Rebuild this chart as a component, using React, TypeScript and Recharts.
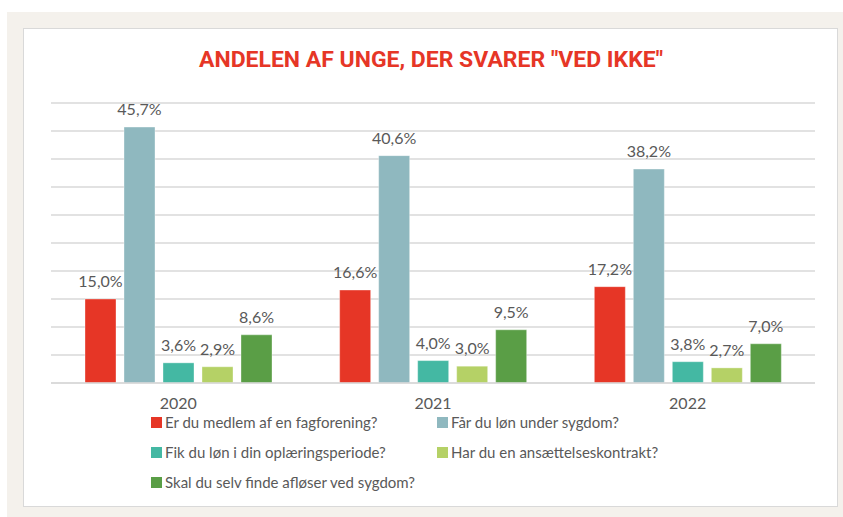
import { BarChart, Bar, XAxis, YAxis, CartesianGrid, LabelList } from "recharts";

const years = ["2020", "2021", "2022"];
const questions = [
  "Er du medlem af en fagforening?",
  "Får du løn under sygdom?",
  "Fik du løn i din oplæringsperiode?",
  "Har du en ansættelseskontrakt?",
  "Skal du selv finde afløser ved sygdom?",
];
const medlem = [15.0, 16.6, 17.2];
const loenSygdom = [45.7, 40.6, 38.2];
const loenOplaering = [3.6, 4.0, 3.8];
const kontrakt = [2.9, 3.0, 2.7];
const afloeser = [8.6, 9.5, 7.0];
const yTicks = [0, 5, 10, 15, 20, 25, 30, 35, 40, 45, 50];

const COLORS = ["#e63626", "#8fb8bf", "#44b8a3", "#b5d166", "#5a9e46"];
const KEYS = ["q0", "q1", "q2", "q3", "q4"];
const FONT = "Lato, 'Noto Sans', sans-serif";
const GREY = "#595959";

const series = [medlem, loenSygdom, loenOplaering, kontrakt, afloeser];
const data = years.map((year, i) => {
  const row: Record<string, string | number> = { year };
  series.forEach((s, k) => {
    row[KEYS[k]] = s[i];
  });
  return row;
});

const fmt = (v: any) => Number(v).toFixed(1).replace(".", ",") + "%";

// legend in two columns, last item alone on the third row
function LegendBox() {
  return (
    <div style={{ position: "absolute", left: 151, top: 413, width: 700, height: 90, fontFamily: FONT }}>
      {questions.map((q, i) => (
        <div
          key={q}
          style={{
            position: "absolute",
            left: (i % 2) * 286,
            top: Math.floor(i / 2) * 30,
            display: "flex",
            alignItems: "center",
            fontSize: 15,
            color: GREY,
            whiteSpace: "nowrap",
          }}
        >
          <span style={{ display: "inline-block", width: 11, height: 11, background: COLORS[i], marginRight: 3 }} />
          {q}
        </div>
      ))}
    </div>
  );
}

export default function App() {
  return (
    <div style={{ position: "absolute", left: 0, top: 0, width: 843, height: 517, background: "#fff", overflow: "hidden" }}>
      <div style={{ position: "absolute", left: 7, top: 12, width: 836, height: 505, background: "#f4f1ec" }} />
      <div
        style={{
          position: "absolute",
          left: 23,
          top: 28,
          width: 813,
          height: 477,
          background: "#fff",
          border: "1px solid #d9d9d9",
        }}
      />
      <svg style={{ position: "absolute", left: 0, top: 0 }} width={843} height={100}>
        <text
          x={199}
          y={67}
          textLength={464}
          lengthAdjust="spacingAndGlyphs"
          fill="#e63626"
          fontFamily="Roboto, 'Liberation Sans', sans-serif"
          fontWeight={700}
          fontSize={22}
        >
          ANDELEN AF UNGE, DER SVARER "VED IKKE"
        </text>
      </svg>
      <div style={{ position: "absolute", left: 0, top: 0 }}>
        <BarChart
          width={843}
          height={517}
          data={data}
          margin={{ top: 103, right: 28, bottom: 104, left: 51 }}
          barSize={31}
          barGap={8}
        >
          <CartesianGrid vertical={false} stroke="#d9d9d9" strokeWidth={1.5} />
          <YAxis hide domain={[0, 50]} ticks={yTicks} />
          <XAxis
            dataKey="year"
            height={30}
            axisLine={{ stroke: "#d9d9d9", strokeWidth: 1.5 }}
            tickLine={false}
            tick={{ fill: GREY, fontSize: 16, fontFamily: FONT }}
            dy={7}
          />
          {KEYS.map((k, i) => (
            <Bar key={k} dataKey={k} name={questions[i]} fill={COLORS[i]} stroke="#ffffff" strokeOpacity={0.35} isAnimationActive={false}>
              <LabelList
                dataKey={k}
                position="top"
                offset={12}
                formatter={fmt}
                style={{ fill: GREY, fontSize: 16, fontFamily: FONT }}
              />
            </Bar>
          ))}
        </BarChart>
      </div>
      <LegendBox />
    </div>
  );
}
